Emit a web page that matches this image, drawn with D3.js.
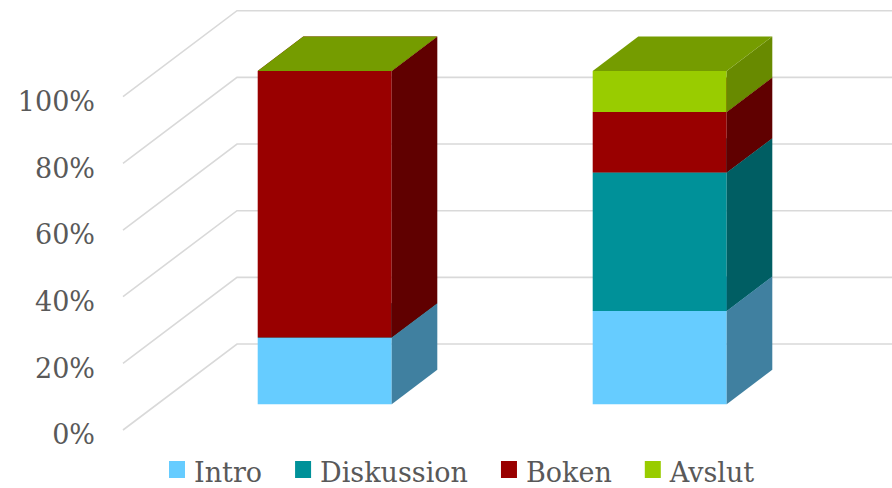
<!DOCTYPE html>
<html>
<head>
<meta charset="utf-8">
<script src="https://cdn.jsdelivr.net/npm/d3@7"></script>
<style>
  html, body { margin: 0; padding: 0; background: #fff; }
  svg { display: block; }
  .grid { fill: none; stroke: #d9d9d9; stroke-width: 1.6; }
  .tick-label, .legend-label { font-family: Georgia, "DejaVu Serif", serif; fill: #595959; }
</style>
</head>
<body>
<svg id="chart" width="892" height="488"></svg>
<script>
// Data
const categories = ["Lektion 1", "Lektion 2"];
const seriesNames = ["Intro", "Diskussion", "Boken", "Avslut"];
const intro = [20, 28];
const diskussion = [0, 41.5];
const boken = [80, 18.2];
const avslut = [0, 12.3];
const tickValues = [0, 0.2, 0.4, 0.6, 0.8, 1];

// Colours per series: front, side, top
const frontColors = ["#66ccff", "#009199", "#990000", "#99cc00"];
const sideColors = ["#4080a0", "#005e63", "#600000", "#688a00"];
const topColors = ["#52a3cc", "#00777d", "#7a0000", "#759c00"];

const width = 892, height = 488;
const svg = d3.select("#chart");

// Oblique 3D projection of the depth axis
const depth = {dx: 114, dy: -86};
const barDepth = [0.3, 0.7];

const x = d3.scaleBand()
  .domain(categories)
  .range([123, 793])
  .paddingInner(0.6)
  .paddingOuter(0.3);

const y = d3.scaleLinear().domain([0, 1]).range([430, 96.7]);

/**
 * Project a point with depth fraction d
 */
function proj(px, py, d) {
  return [px + depth.dx * d, py + depth.dy * d];
}

// Gridlines (left wall diagonal + back wall horizontal)
svg.append("g").selectAll("path")
  .data(tickValues)
  .enter().append("path")
  .attr("class", "grid")
  .attr("d", v => {
    const p0 = proj(123, y(v), 0);
    const p1 = proj(123, y(v), 1);
    return "M" + p0 + "L" + p1 + "H" + width;
  });

// Y axis labels
svg.append("g").selectAll("text")
  .data(tickValues)
  .enter().append("text")
  .attr("class", "tick-label")
  .attr("x", 95)
  .attr("y", v => y(v) + 5)
  .attr("dy", "0.35em")
  .attr("text-anchor", "end")
  .style("font-size", "27px")
  .text(d3.format(".0%"));

// Stack the series as 100% columns
const rows = categories.map((c, i) => ({
  cat: c,
  Intro: intro[i],
  Diskussion: diskussion[i],
  Boken: boken[i],
  Avslut: avslut[i]
}));
const stacked = d3.stack().keys(seriesNames).offset(d3.stackOffsetExpand)(rows);

const bars = svg.append("g");
categories.forEach((cat, ci) => {
  const x0 = x(cat), x1 = x(cat) + x.bandwidth();
  const g = bars.append("g");
  stacked.forEach((layer, si) => {
    const yb = y(layer[ci][0]), yt = y(layer[ci][1]);
    const f = barDepth[0], b = barDepth[1];
    const fbl = proj(x0, yb, f), fbr = proj(x1, yb, f);
    const ftl = proj(x0, yt, f), ftr = proj(x1, yt, f);
    const bbr = proj(x1, yb, b), btr = proj(x1, yt, b), btl = proj(x0, yt, b);
    // front face
    g.append("path")
      .attr("d", "M" + fbl + "L" + fbr + "L" + ftr + "L" + ftl + "Z")
      .attr("fill", frontColors[si]);
    // right side face
    g.append("path")
      .attr("d", "M" + fbr + "L" + bbr + "L" + btr + "L" + ftr + "Z")
      .attr("fill", sideColors[si]);
    // top face
    g.append("path")
      .attr("d", "M" + ftl + "L" + ftr + "L" + btr + "L" + btl + "Z")
      .attr("fill", topColors[si]);
  });
});

// Legend
const legend = svg.append("g");
let lx = 169;
seriesNames.forEach((name, i) => {
  legend.append("rect")
    .attr("x", lx).attr("y", 461)
    .attr("width", 16).attr("height", 17)
    .attr("fill", frontColors[i]);
  const t = legend.append("text")
    .attr("class", "legend-label")
    .attr("x", lx + 25).attr("y", 481.5)
    .style("font-size", "27px")
    .text(name);
  lx += 25 + t.node().getComputedTextLength() + 33;
});
</script>
</body>
</html>
